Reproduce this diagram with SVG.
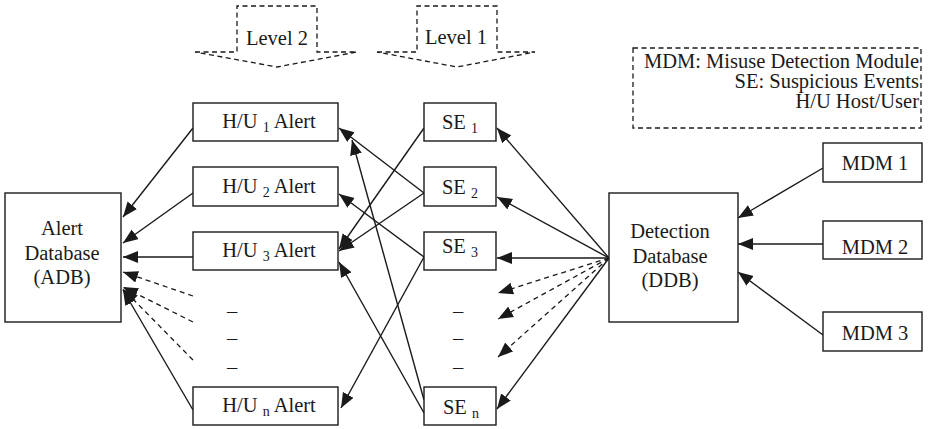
<svg xmlns="http://www.w3.org/2000/svg" width="931" height="429" viewBox="0 0 931 429">
<style>
  text { font-family: "Liberation Serif", "Times New Roman", serif; font-size: 20.5px; fill: #1a1a1a; }
  .box { fill: #fff; stroke: #1a1a1a; stroke-width: 1.4; }
  .dbox { fill: none; stroke: #1a1a1a; stroke-width: 1.3; stroke-dasharray: 5 3.5; }
  .c { stroke: #1a1a1a; stroke-width: 1.4; fill: none; marker-end: url(#ah); }
  .d { stroke: #1a1a1a; stroke-width: 1.3; fill: none; stroke-dasharray: 5 4; marker-end: url(#ah); }
  .sub { font-size: 14px; }
  .m { text-anchor: middle; }
  .r { text-anchor: end; }
</style>
<defs>
  <marker id="ah" markerUnits="userSpaceOnUse" markerWidth="16" markerHeight="13" refX="15" refY="6" orient="auto">
    <path d="M0,0 L15,6 L0,12 z" fill="#1a1a1a"/>
  </marker>
</defs>
<rect width="931" height="429" fill="#fff"/>

<g id="connectors">
  <line class="c" x1="193" y1="128" x2="123" y2="217"/>
  <line class="c" x1="193" y1="193" x2="123" y2="243"/>
  <line class="c" x1="193" y1="257" x2="123" y2="257"/>
  <line class="d" x1="193" y1="296" x2="123" y2="272"/>
  <line class="d" x1="193" y1="322" x2="123" y2="287"/>
  <line class="d" x1="193" y1="360" x2="123" y2="289"/>
  <line class="c" x1="193" y1="410" x2="123" y2="290"/>

  <line class="c" x1="424" y1="128" x2="339" y2="249"/>
  <line class="c" x1="424" y1="193" x2="339" y2="128"/>
  <line class="c" x1="424" y1="193" x2="339" y2="251"/>
  <line class="c" x1="424" y1="257" x2="339" y2="194"/>
  <line class="c" x1="424" y1="257" x2="341" y2="408"/>
  <line class="c" x1="424" y1="400" x2="352" y2="140"/>
  <line class="c" x1="424" y1="413" x2="339" y2="262"/>

  <line class="c" x1="609" y1="258" x2="497" y2="128"/>
  <line class="c" x1="609" y1="258" x2="497" y2="197"/>
  <line class="c" x1="609" y1="258" x2="497" y2="258"/>
  <line class="d" x1="609" y1="258" x2="498" y2="293"/>
  <line class="d" x1="609" y1="258" x2="498" y2="319"/>
  <line class="d" x1="609" y1="258" x2="498" y2="357"/>
  <line class="c" x1="609" y1="258" x2="497" y2="409"/>

  <line class="c" x1="823" y1="168" x2="738" y2="218"/>
  <line class="c" x1="823" y1="244" x2="738" y2="244"/>
  <line class="c" x1="823" y1="335" x2="738" y2="272"/>
</g>

<g id="level2">
  <path class="dbox" d="M195,52 L237,52 L237,6 L317,6 L317,52 L357,52 L277,67 Z"/>
  <text x="277" y="45" class="m">Level 2</text>
</g>
<g id="level1">
  <path class="dbox" d="M377,52 L417,52 L417,6 L497,6 L497,52 L535,52 L457,67 Z"/>
  <text x="456" y="44" class="m">Level 1</text>
</g>

<g id="legend">
  <rect class="dbox" x="633" y="48" width="288" height="80"/>
  <text x="919" y="68" class="r">MDM: Misuse Detection Module</text>
  <text x="919" y="88" class="r">SE: Suspicious Events</text>
  <text x="919" y="108" class="r">H/U Host/User</text>
</g>

<g id="adb">
  <rect class="box" x="5" y="193" width="116" height="129"/>
  <text x="62" y="235" class="m">Alert</text>
  <text x="62" y="260" class="m">Database</text>
  <text x="62" y="284" class="m">(ADB)</text>
</g>

<g id="hu1">
  <rect class="box" x="193" y="103" width="145" height="38"/>
  <text x="269" y="128" class="m">H/U <tspan class="sub" dy="4">1</tspan><tspan dy="-4"> Alert</tspan></text>
</g>
<g id="hu2">
  <rect class="box" x="193" y="167" width="145" height="39"/>
  <text x="269" y="193" class="m">H/U <tspan class="sub" dy="4">2</tspan><tspan dy="-4"> Alert</tspan></text>
</g>
<g id="hu3">
  <rect class="box" x="193" y="232" width="145" height="38"/>
  <text x="269" y="257" class="m">H/U <tspan class="sub" dy="4">3</tspan><tspan dy="-4"> Alert</tspan></text>
</g>
<g id="hun">
  <rect class="box" x="193" y="387" width="145" height="38"/>
  <text x="269" y="412" class="m">H/U <tspan class="sub" dy="4">n</tspan><tspan dy="-4"> Alert</tspan></text>
</g>

<g id="dots-left">
  <text x="232" y="318" class="m">–</text>
  <text x="232" y="345" class="m">–</text>
  <text x="232" y="374" class="m">–</text>
</g>

<g id="se1">
  <rect class="box" x="424" y="103" width="72" height="38"/>
  <text x="460" y="129" class="m">SE <tspan class="sub" dy="4">1</tspan></text>
</g>
<g id="se2">
  <rect class="box" x="424" y="167" width="72" height="39"/>
  <text x="460" y="194" class="m">SE <tspan class="sub" dy="4">2</tspan></text>
</g>
<g id="se3">
  <rect class="box" x="424" y="232" width="72" height="38"/>
  <text x="460" y="253" class="m">SE <tspan class="sub" dy="4">3</tspan></text>
</g>
<g id="sen">
  <rect class="box" x="424" y="387" width="72" height="38"/>
  <text x="461" y="414" class="m">SE <tspan class="sub" dy="4">n</tspan></text>
</g>

<g id="dots-right">
  <text x="458" y="318" class="m">–</text>
  <text x="458" y="345" class="m">–</text>
  <text x="458" y="374" class="m">–</text>
</g>

<g id="ddb">
  <rect class="box" x="609" y="193" width="129" height="129"/>
  <text x="670" y="238" class="m">Detection</text>
  <text x="670" y="263" class="m">Database</text>
  <text x="670" y="287" class="m">(DDB)</text>
</g>

<g id="mdm1">
  <rect class="box" x="823" y="143" width="99" height="39"/>
  <text x="875" y="170" class="m">MDM 1</text>
</g>
<g id="mdm2">
  <rect class="box" x="823" y="221" width="99" height="38"/>
  <text x="875" y="254" class="m">MDM 2</text>
</g>
<g id="mdm3">
  <rect class="box" x="823" y="312" width="99" height="39"/>
  <text x="875" y="340" class="m">MDM 3</text>
</g>
</svg>
